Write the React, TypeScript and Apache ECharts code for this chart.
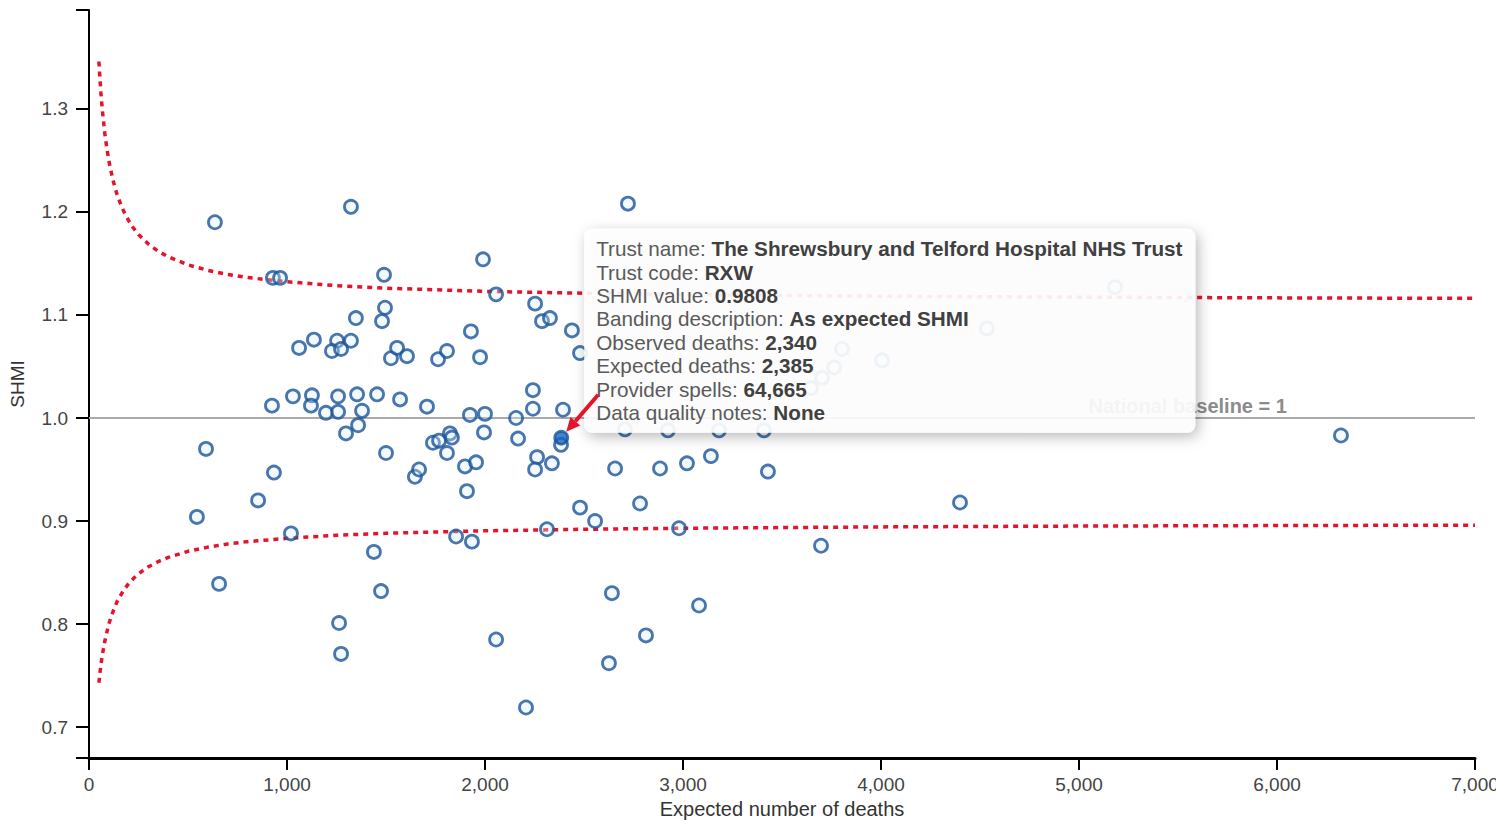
import React, { useEffect, useRef } from "react";
import * as echarts from "echarts";

const xTicks = [0, 1000, 2000, 3000, 4000, 5000, 6000, 7000];
const yTicks = [0.7, 0.8, 0.9, 1.0, 1.1, 1.2, 1.3];
const yMin = 0.67;
const yMax = 1.396;

const expectedDeaths = [
  636, 1323, 2722, 929, 965, 1490, 1990, 2056, 1495, 1348, 1480, 1929, 1061, 1136, 1253, 1227, 1273, 1323,
  1525, 1556, 1606, 1763, 1808, 1975, 2253, 2288, 2328, 2439, 2480, 924, 1030, 1126, 1121, 1197, 1258, 1258,
  1354, 1379, 1455, 1571, 1707, 1359, 1298, 591, 1500, 934, 854, 545, 1020, 657, 1439, 1475, 1263, 1273,
  2056, 1646, 1667, 1737, 1768, 1823, 1833, 1808, 1899, 1955, 1909, 1924, 2000, 1995, 2157, 2242, 2242, 2394,
  2167, 2384, 2263, 2253, 2338, 1854, 1934, 2313, 2480, 2556, 2707, 2924, 3182, 3409, 2657, 2884, 3020, 3141,
  3429, 2783, 2980, 3697, 2641, 3081, 2813, 2626, 2207, 4399, 6323, 5182, 4535, 4005, 3803, 3763, 3702, 3646,
];
const shmiValues = [
  1.19, 1.205, 1.208, 1.136, 1.136, 1.139, 1.154, 1.12, 1.107, 1.097, 1.094, 1.084, 1.068, 1.076, 1.075, 1.065, 1.067, 1.075,
  1.058, 1.068, 1.06, 1.057, 1.065, 1.059, 1.111, 1.094, 1.097, 1.085, 1.063, 1.012, 1.021, 1.022, 1.012, 1.005, 1.006, 1.021,
  1.023, 1.007, 1.023, 1.018, 1.011, 0.993, 0.985, 0.97, 0.966, 0.947, 0.92, 0.904, 0.888, 0.839, 0.87, 0.832, 0.801, 0.771,
  0.785, 0.943, 0.95, 0.976, 0.978, 0.985, 0.981, 0.966, 0.953, 0.957, 0.929, 1.003, 1.004, 0.986, 1.0, 1.027, 1.009, 1.008,
  0.98, 0.974, 0.962, 0.95, 0.956, 0.885, 0.88, 0.892, 0.913, 0.9, 0.989, 0.988, 0.988, 0.988, 0.951, 0.951, 0.956, 0.963,
  0.948, 0.917, 0.893, 0.876, 0.83, 0.818, 0.789, 0.762, 0.719, 0.918, 0.983, 1.127, 1.087, 1.056, 1.067, 1.049, 1.039, 1.029,
];

const highlightExpected = 2385;
const highlightShmi = 0.9808;

const limitExpected = [
  50, 55, 60, 65, 70, 75, 80, 90, 100, 110, 125, 140, 150, 175, 200, 225, 250, 300, 350, 400, 500, 600, 700, 800,
  1000, 1250, 1500, 2000, 2500, 3000, 4000, 5000, 6000, 7000,
];
const upperLimit = [
  1.346, 1.33, 1.316, 1.304, 1.294, 1.285, 1.276, 1.262, 1.25, 1.2405, 1.228, 1.218, 1.2125, 1.2008, 1.1916, 1.1842,
  1.178, 1.1688, 1.1618, 1.1565, 1.1487, 1.1433, 1.1393, 1.1363, 1.1323, 1.1284, 1.126, 1.1229, 1.1211, 1.1198,
  1.1182, 1.1173, 1.1166, 1.1161,
];
const lowerLimit = [
  0.743, 0.752, 0.76, 0.767, 0.773, 0.778, 0.7835, 0.792, 0.8, 0.806, 0.814, 0.821, 0.8247, 0.8328, 0.8392, 0.8444,
  0.8488, 0.8556, 0.8607, 0.8647, 0.8706, 0.8747, 0.8777, 0.88, 0.8832, 0.8862, 0.8881, 0.8905, 0.892, 0.893,
  0.8943, 0.8951, 0.8956, 0.896,
];

const baselineX = [0, 7000];
const baselineValue = 1;
const baselineLabel = "National baseline = 1";
const baselineLabelEnd = 6050;

const xAxisName = "Expected number of deaths";
const yAxisName = "SHMI";

const tooltipLabels = [
  "Trust name: ",
  "Trust code: ",
  "SHMI value: ",
  "Banding description: ",
  "Observed deaths: ",
  "Expected deaths: ",
  "Provider spells: ",
  "Data quality notes: ",
];
const tooltipValues = [
  "The Shrewsbury and Telford Hospital NHS Trust",
  "RXW",
  "0.9808",
  "As expected SHMI",
  "2,340",
  "2,385",
  "64,665",
  "None",
];

const FONT = "'Liberation Sans', Arial, sans-serif";
const POINT_BLUE = "#1b5498";
const RED = "#e5132b";

export default function App() {
  const ref = useRef<HTMLDivElement>(null);

  useEffect(() => {
    document.body.style.margin = "0";
    if (!ref.current) return;
    const chart = echarts.init(ref.current, undefined, { renderer: "svg" });

    const points = expectedDeaths.map((e, i) => [e, shmiValues[i]]);
    const upper = limitExpected.map((e, i) => [e, upperLimit[i]]);
    const lower = limitExpected.map((e, i) => [e, lowerLimit[i]]);
    const baseline = baselineX.map((e) => [e, baselineValue]);

    chart.setOption({
      animation: false,
      backgroundColor: "#ffffff",
      grid: { left: 89, right: 21, top: 10, bottom: 62, containLabel: false, outerBoundsMode: "none" },
      xAxis: {
        type: "value",
        min: 0,
        max: 7000,
        interval: 1000,
        name: xAxisName,
        nameLocation: "middle",
        nameGap: 39,
        nameTextStyle: { fontFamily: FONT, fontSize: 20, color: "#333" },
        axisLine: { show: true, onZero: false, lineStyle: { color: "#000", width: 3 } },
        axisTick: { show: true, length: 12, lineStyle: { color: "#000", width: 2 } },
        axisLabel: {
          margin: 17,
          fontFamily: FONT,
          fontSize: 19,
          color: "#444",
          formatter: (v: number) => v.toLocaleString("en-US"),
          customValues: xTicks,
        },
        splitLine: { show: false },
      },
      yAxis: {
        type: "value",
        min: yMin,
        max: yMax,
        name: yAxisName,
        nameLocation: "middle",
        nameGap: 62,
        nameTextStyle: { fontFamily: FONT, fontSize: 19, color: "#333" },
        axisLine: { show: true, onZero: false, lineStyle: { color: "#000", width: 2 } },
        axisTick: {
          show: true,
          length: 13,
          lineStyle: { color: "#000", width: 2 },
          customValues: [yMin, ...yTicks, yMax],
        },
        axisLabel: {
          margin: 21,
          fontFamily: FONT,
          fontSize: 19,
          color: "#444",
          formatter: (v: number) => v.toFixed(1),
          customValues: yTicks,
        },
        splitLine: { show: false },
      },
      series: [
        {
          type: "line",
          data: baseline,
          symbol: "none",
          silent: true,
          lineStyle: { color: "#aaaaaa", width: 2 },
          z: 1,
        },
        {
          type: "line",
          data: upper,
          symbol: "none",
          silent: true,
          lineStyle: { color: RED, width: 3.5, type: [5, 5] },
          z: 2,
        },
        {
          type: "line",
          data: lower,
          symbol: "none",
          silent: true,
          lineStyle: { color: RED, width: 3.5, type: [5, 5] },
          z: 2,
        },
        {
          type: "scatter",
          data: points,
          symbol: "circle",
          symbolSize: 13,
          itemStyle: { color: "rgba(215,240,252,0.4)", borderColor: POINT_BLUE, borderWidth: 2.8 },
          z: 3,
        },
        {
          type: "scatter",
          data: [[highlightExpected, highlightShmi]],
          symbol: "circle",
          symbolSize: 13,
          itemStyle: { color: "#1565c0", borderColor: POINT_BLUE, borderWidth: 2.8 },
          z: 4,
        },
      ],
    });

    const hp = chart.convertToPixel({ gridIndex: 0 }, [highlightExpected, highlightShmi]) as number[];
    const bp = chart.convertToPixel({ gridIndex: 0 }, [baselineLabelEnd, baselineValue]) as number[];
    const px = hp[0];
    const py = hp[1];

    // arrow geometry relative to the highlighted point
    const tipX = px + 5;
    const tipY = py - 6;
    const dx = -0.654;
    const dy = 0.757;
    const headLen = 14;
    const halfW = 6.5;
    const bx = tipX - headLen * dx;
    const by = tipY - headLen * dy;
    const nx = 0.757;
    const ny = 0.654;

    const tipBoxX = px + 23;
    const tipBoxY = py - 209;
    const lineGap = 23.4;

    chart.setOption({
      graphic: [
        {
          type: "text",
          z: 50,
          x: bp[0],
          y: bp[1] - 2,
          style: {
            text: baselineLabel,
            fill: "#8c8c8c",
            font: `bold 20px ${FONT}`,
            align: "right",
            verticalAlign: "bottom",
          },
        },
        {
          type: "group",
          z: 100,
          x: tipBoxX,
          y: tipBoxY,
          children: [
            {
              type: "rect",
              z: 100,
              shape: { x: 0, y: 0, width: 611, height: 204, r: 8 },
              style: {
                fill: "rgba(255,255,255,0.9)",
                shadowBlur: 14,
                shadowColor: "rgba(0,0,0,0.3)",
                shadowOffsetX: 3,
                shadowOffsetY: 4,
              },
            },
            ...tooltipLabels.map((lab, i) => ({
              type: "text",
              z: 101,
              x: 12,
              y: 20 + i * lineGap,
              style: {
                text: `{l|${lab}}{v|${tooltipValues[i]}}`,
                verticalAlign: "middle",
                rich: {
                  l: { fill: "#5a5a5a", fontSize: 20.7, fontFamily: FONT },
                  v: { fill: "#404040", fontSize: 20.7, fontFamily: FONT, fontWeight: "bold" },
                },
              },
            })),
          ],
        },
        {
          type: "line",
          z: 110,
          shape: { x1: px + 37, y1: py - 43, x2: bx, y2: by },
          style: { stroke: RED, lineWidth: 4 },
        },
        {
          type: "polygon",
          z: 110,
          shape: {
            points: [
              [tipX, tipY],
              [bx + halfW * nx, by + halfW * ny],
              [bx - halfW * nx, by - halfW * ny],
            ],
          },
          style: { fill: RED },
        },
      ],
    });

    return () => {
      chart.dispose();
    };
  }, []);

  return (
    <div
      ref={ref}
      style={{ position: "fixed", left: 0, top: 0, width: 1496, height: 820 }}
    />
  );
}
